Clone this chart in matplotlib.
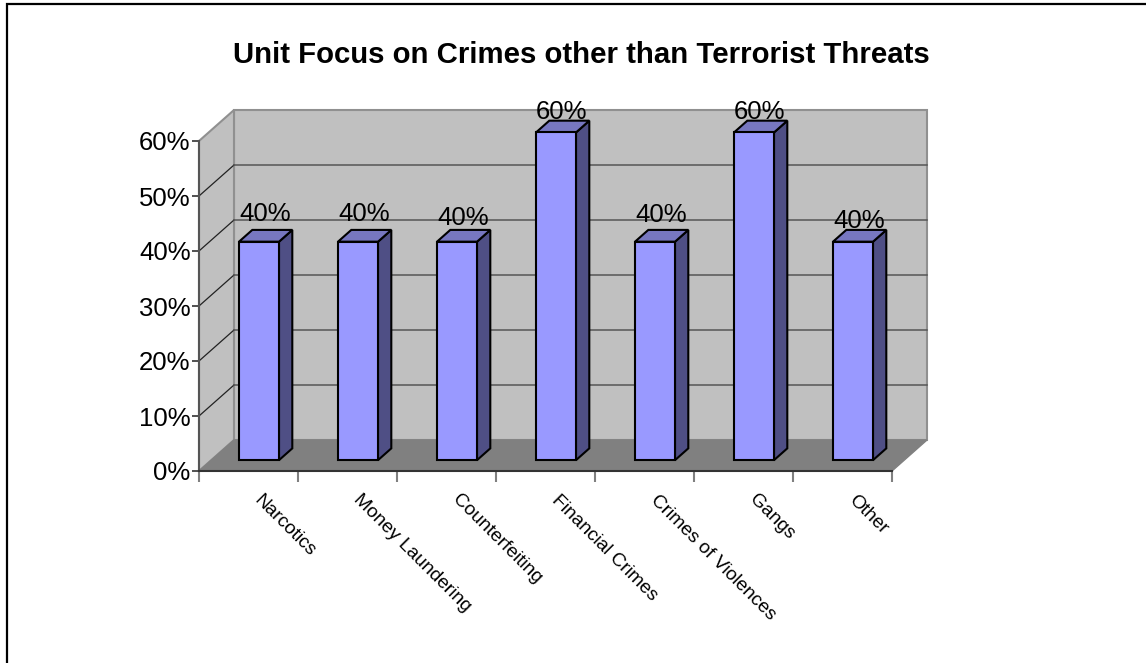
#!/usr/bin/env python3

import matplotlib

matplotlib.use("Agg")
import matplotlib.pyplot as plt
from matplotlib.lines import Line2D
from matplotlib.patches import Polygon, Rectangle

TITLE = "Unit Focus on Crimes other than Terrorist Threats"
categories = [
    "Narcotics",
    "Money Laundering",
    "Counterfeiting",
    "Financial Crimes",
    "Crimes of Violences",
    "Gangs",
    "Other",
]
values = [40, 40, 40, 60, 40, 60, 40]
y_ticks = [0, 10, 20, 30, 40, 50, 60]

WIDTH, HEIGHT = 1146, 663
# plot box in pixels, front plane of the fake 3d chart
LEFT, RIGHT, BOTTOM, TOP = 199, 892, 471, 141
# depth of the box in data units
DEPTH_X = 35 / 99
DEPTH_Y = 31 / 5.5
BAR_WIDTH = 40 / 99
# the value labels do not sit at one height above their bars (pixels)
LABEL_RAISE = [16, 16, 12, 9, 15, 9, 9]


def poly(ax, points, face, edge="none", lw=1.0, z=1):
    ax.add_patch(
        Polygon(points, closed=True, facecolor=face, edgecolor=edge, linewidth=lw,
                zorder=z, clip_on=False, joinstyle="miter")
    )


def draw_walls(ax, ymax, n):
    # back wall, side wall, floor
    poly(ax, [(DEPTH_X, DEPTH_Y), (n + DEPTH_X, DEPTH_Y),
              (n + DEPTH_X, ymax + DEPTH_Y), (DEPTH_X, ymax + DEPTH_Y)],
         "#c0c0c0", "#909090", 1.5)
    poly(ax, [(0, 0), (DEPTH_X, DEPTH_Y), (DEPTH_X, ymax + DEPTH_Y), (0, ymax)],
         "#c0c0c0", "#909090", 1.5)
    poly(ax, [(0, 0), (n, 0), (n + DEPTH_X, DEPTH_Y), (DEPTH_X, DEPTH_Y)],
         "#808080", "#808080", 1.0, z=2)


def draw_bar(ax, i, value):
    x0 = i + 0.5 - BAR_WIDTH / 2 + DEPTH_X * 0.3
    x1 = x0 + BAR_WIDTH
    y0 = DEPTH_Y * 0.35
    # bars stand on the floor, a little way in from the front edge
    y1 = y0 + value * 0.993
    dx = DEPTH_X * 0.38
    dy = DEPTH_Y * 0.38
    # side, top, then the front face
    poly(ax, [(x1, y0), (x1 + dx, y0 + dy), (x1 + dx, y1 + dy), (x1, y1)],
         "#4f4f85", "black", 1.5, z=4)
    poly(ax, [(x0, y1), (x1, y1), (x1 + dx, y1 + dy), (x0 + dx, y1 + dy)],
         "#7777c0", "black", 1.5, z=4)
    ax.add_patch(
        Rectangle((x0, y0), BAR_WIDTH, y1 - y0, facecolor="#9999ff", edgecolor="black",
                  linewidth=1.5, zorder=5, clip_on=False)
    )
    ax.annotate(f"{value}%", xy=(x0 + BAR_WIDTH / 2 + 0.06, y1 + dy),
                xytext=(0, LABEL_RAISE[i] * 0.72), textcoords="offset points",
                ha="center", va="center", fontsize=18.5, color="black", zorder=6,
                annotation_clip=False)


def main():
    plt.rcParams["font.family"] = ["Liberation Sans", "DejaVu Sans"]
    fig = plt.figure(figsize=(WIDTH / 100, HEIGHT / 100), dpi=100, facecolor="white")
    # the frame is cut off at the right and bottom of the picture
    fig.add_artist(Line2D([6.5 / WIDTH, 6.5 / WIDTH, 1], [0, 1 - 4 / HEIGHT, 1 - 4 / HEIGHT],
                          transform=fig.transFigure, color="black", lw=1.6,
                          solid_joinstyle="miter"))
    fig.text(581 / WIDTH, 1 - 55 / HEIGHT, TITLE, ha="center", va="center",
             fontsize=21.2, fontweight="bold")

    ax = fig.add_axes([LEFT / WIDTH, 1 - BOTTOM / HEIGHT,
                       (RIGHT - LEFT) / WIDTH, (BOTTOM - TOP) / HEIGHT])
    n = len(categories)
    ymax = y_ticks[-1]
    ax.set_xlim(0, n)
    ax.set_ylim(0, ymax)
    ax.patch.set_visible(False)
    for side in ("top", "right"):
        ax.spines[side].set_visible(False)
    ax.spines["left"].set_color("#555555")
    ax.spines["left"].set_linewidth(1.5)
    ax.spines["bottom"].set_color("#333333")
    ax.spines["bottom"].set_linewidth(1.5)
    for spine in ax.spines.values():
        spine.set_zorder(3)

    draw_walls(ax, ymax, n)

    # gridlines run along the side wall and across the back wall
    for tick in y_ticks[1:-1]:
        ax.plot([0, DEPTH_X], [tick, tick + DEPTH_Y], color="#222222", lw=0.9,
                zorder=1.5, clip_on=False)
        ax.plot([DEPTH_X, n + DEPTH_X], [tick + DEPTH_Y, tick + DEPTH_Y], color="#555555",
                lw=1.1, zorder=1.5, clip_on=False)

    for i, value in enumerate(values):
        draw_bar(ax, i, value)

    ax.set_yticks(y_ticks)
    ax.set_yticklabels([f"{t}%" for t in y_ticks], fontsize=18.5)
    ax.tick_params(axis="y", length=5, width=1.2, color="#333333", pad=1)
    ax.set_xticks(range(n + 1))
    ax.set_xticklabels([])
    ax.tick_params(axis="x", length=8, width=1.5, color="#808080")

    for i, name in enumerate(categories):
        ax.annotate(name, xy=(i + 0.5, 0), xytext=(6, -19), textcoords="offset points",
                    rotation=-45, rotation_mode="anchor", ha="left", va="center",
                    fontsize=13.8, annotation_clip=False)

    fig.savefig("out.png", dpi=100)
    plt.close(fig)


if __name__ == "__main__":
    main()
